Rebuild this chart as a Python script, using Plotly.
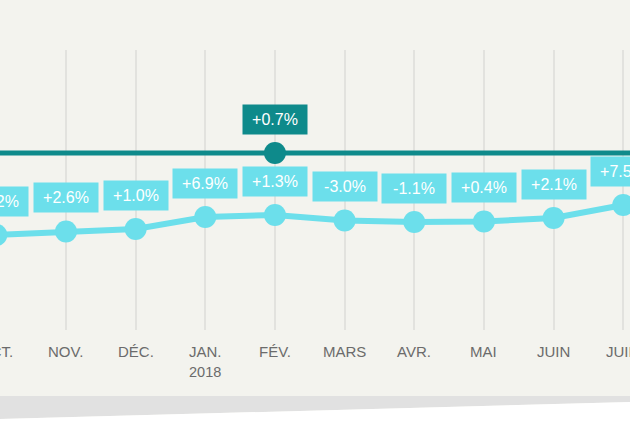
import plotly.graph_objects as go

months = ["OCT.", "NOV.", "DÉC.", "JAN.", "FÉV.", "MARS", "AVR.", "MAI", "JUIN", "JUIL.", "AOÛT"]
year_label = "2018"
year_month = "JAN."
light_values = [95, 98.5, 101, 113, 115, 109.5, 108, 108.5, 112, 125, None]
light_labels = ["+1.2%", "+2.6%", "+1.0%", "+6.9%", "+1.3%", "-3.0%", "-1.1%", "+0.4%", "+2.1%", "+7.5%", None]
dark_values = [177, 177, 177, 177, 177, 177, 177, 177, 177, 177, 177]
dark_marker_month = "FÉV."
dark_label = "+0.7%"

BG = "#f3f3ee"
DARK = "#0e8a8b"
LIGHT = "#6cdfeb"
FONT = "Arial, Liberation Sans, sans-serif"
XR = [0.053, 9.097]

idx = list(range(len(months)))
fig = go.Figure()

fig.add_trace(go.Scatter(x=idx, y=dark_values, mode="lines",
                         line=dict(color=DARK, width=5), hoverinfo="skip"))
mi = months.index(dark_marker_month)
fig.add_trace(go.Scatter(x=[mi], y=[dark_values[mi]], mode="markers",
                         marker=dict(color=DARK, size=22), hoverinfo="skip"))
fig.add_trace(go.Scatter(x=idx, y=light_values, mode="lines+markers",
                         line=dict(color=LIGHT, width=6),
                         marker=dict(color=LIGHT, size=22), hoverinfo="skip"))


def xfrac(i):
    # position of category i on the x axis, as a fraction of the plot width
    # (paper reference keeps labels whose anchor is just off the range visible)
    return (i - XR[0]) / (XR[1] - XR[0])


for i, (v, lab) in enumerate(zip(light_values, light_labels)):
    if v is None:
        continue
    fig.add_annotation(x=xfrac(i), xref="paper", xanchor="center", y=v, yref="y",
                       text=lab, showarrow=False, yshift=34, bgcolor=LIGHT,
                       font=dict(color="white", size=16, family=FONT),
                       width=56, height=21, borderpad=4)
fig.add_annotation(x=xfrac(mi), xref="paper", xanchor="center", y=dark_values[mi], yref="y",
                   text=dark_label, showarrow=False, yshift=34, bgcolor=DARK,
                   font=dict(color="white", size=16, family=FONT),
                   width=56, height=21, borderpad=4)

# month labels
for i, m in enumerate(months):
    fig.add_annotation(x=xfrac(i), xref="paper", xanchor="center", y=-0.075, yref="paper",
                       text=m, showarrow=False, yanchor="middle",
                       font=dict(color="#6b6b6b", size=15, family=FONT))

yi = months.index(year_month)
fig.add_annotation(x=xfrac(yi), xref="paper", xanchor="center", y=-0.15, yref="paper",
                   text=year_label, showarrow=False, yanchor="middle",
                   font=dict(color="#6b6b6b", size=14.5, family=FONT))

# bottom band
fig.add_shape(type="path", xref="paper", yref="paper",
              path="M 0 -0.236 L 1 -0.236 L 1 -0.257 L 0 -0.318 Z",
              fillcolor="#e1e1e1", line=dict(width=0), layer="below")
fig.add_shape(type="path", xref="paper", yref="paper",
              path="M 0 -0.318 L 1 -0.257 L 1 -0.36 L 0 -0.36 Z",
              fillcolor="#ffffff", line=dict(width=0), layer="below")

fig.update_layout(
    width=630, height=428,
    margin=dict(l=0, r=0, t=50, b=98),
    paper_bgcolor=BG, plot_bgcolor=BG,
    showlegend=False,
    xaxis=dict(range=XR, tickvals=idx, ticktext=[""] * len(idx),
               showgrid=True, gridcolor="#e2e2de", gridwidth=2, zeroline=False,
               showline=False, ticks="", fixedrange=True),
    yaxis=dict(range=[0, 280], visible=False, fixedrange=True),
)

fig.write_html("out.html")
